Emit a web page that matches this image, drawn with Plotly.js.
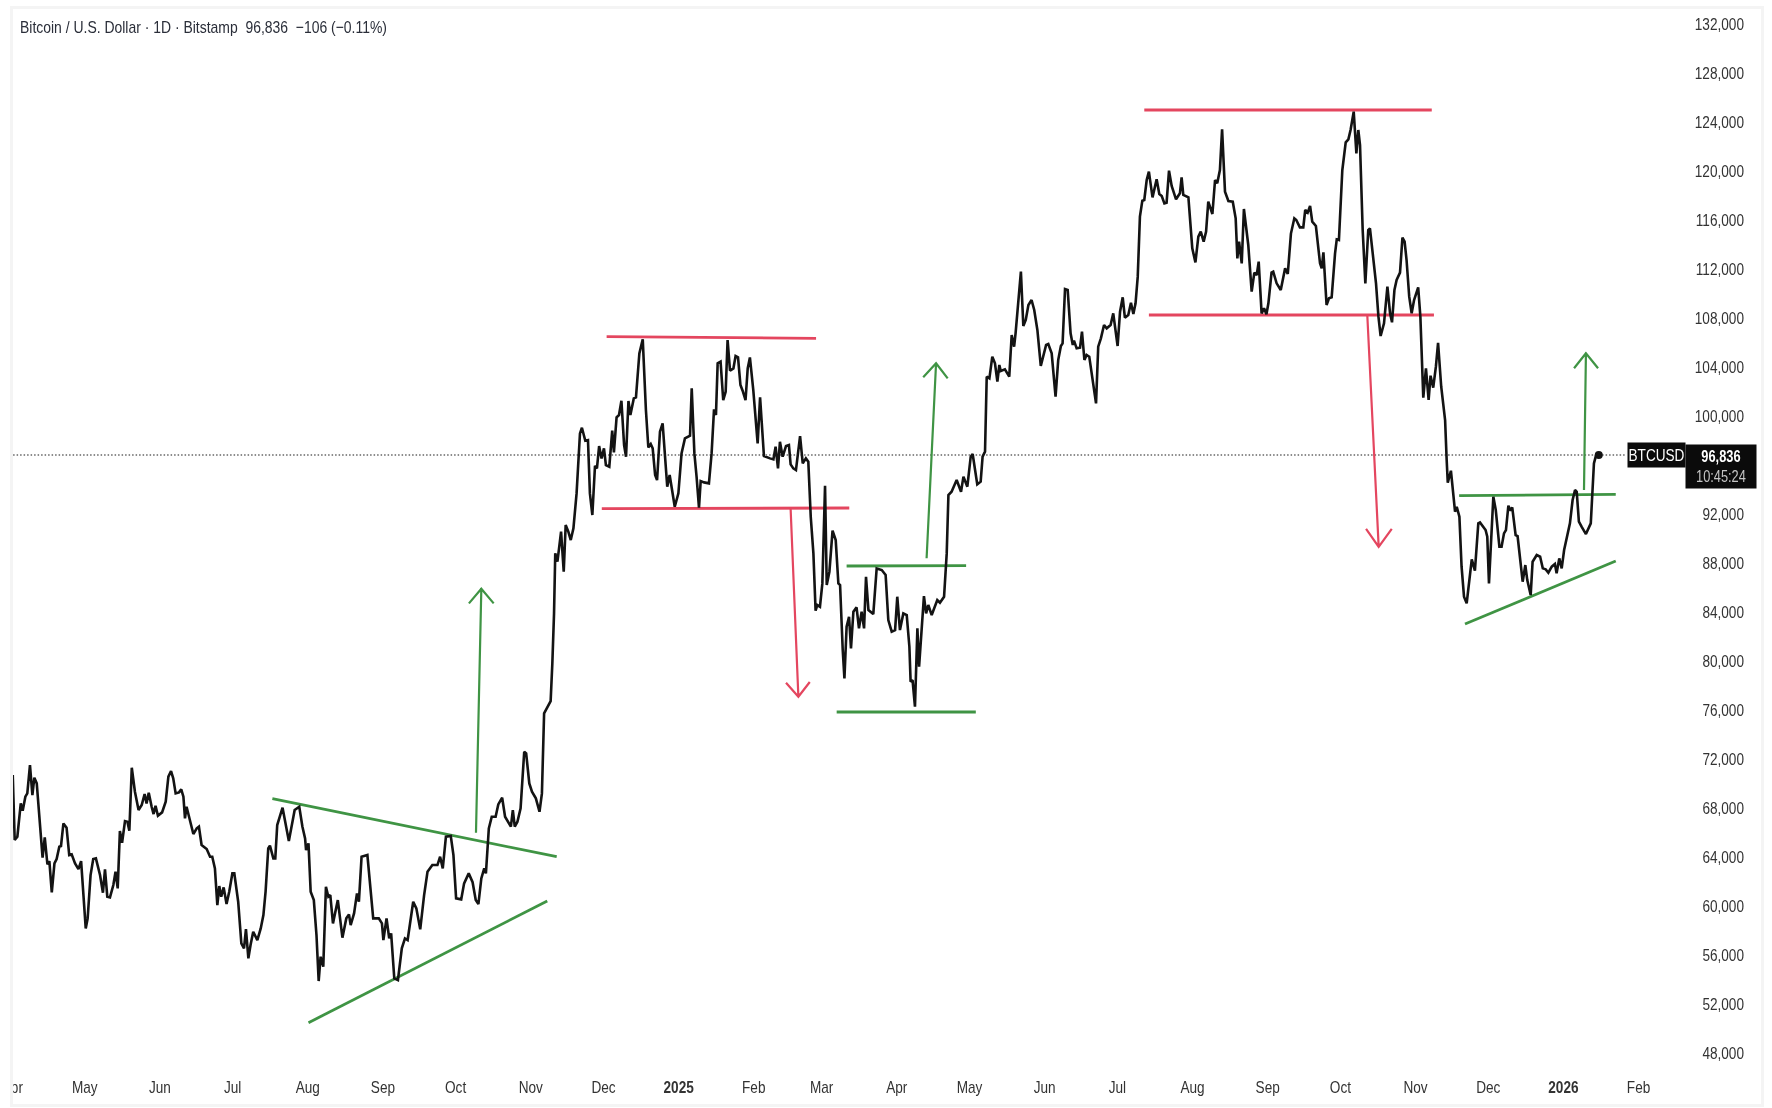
<!DOCTYPE html>
<html>
<head>
<meta charset="utf-8">
<script src="https://cdn.plot.ly/plotly-3.0.1.min.js"></script>
<style>
html,body{margin:0;padding:0;background:#fff;width:1772px;height:1108px;overflow:hidden}
#frame{position:absolute;left:10px;top:6px;width:1748px;height:1095px;border:3px solid #f4f4f4;box-sizing:content-box;pointer-events:none}
#chart{position:absolute;left:0;top:0;width:1772px;height:1108px;filter:blur(0.4px)}
</style>
</head>
<body>
<div id="chart"></div>
<div id="frame"></div>
<script>
// days counted from the first of May 2024
const baseDate = Date.UTC(2024, 4, 1);
const days = [
-29.7,-28.9,-27.8,-26.4,-25.6,-24.5,-23.7,-22.6,-21.6,-20.8,-19.8,-18.5,-17.4,-16.5,-15.4,-14.6,-13.6,-12.5,-11.6,-10.5,-9.8,-8.8,-7.5,-6.4,-5.4,-4.0,-2.6,-1.5,-0.6,0.4,1.2,2.4,3.5,4.6,6.3,7.5,8.35,9.3,10.4,11.8,12.7,13.6,14.5,15.4,16.6,17.6,18.4,19.4,20.7,22.2,23.5,24.7,25.5,26.4,27.6,28.4,29.2,30.2,31.9,33.4,34.5,35.6,36.5,37.5,38.9,39.8,40.7,41.35,42.0,43.4,44.8,46.2,47.1,48.2,50.3,51.7,52.6,53.7,54.7,55.5,56.3,57.3,58.5,59.6,60.9,61.7,63.3,64.6,65.7,66.5,67.5,68.4,69.5,71.2,72.6,73.7,74.6,75.7,76.4,77.8,78.6,79.4,
81.6,84.2,86.6,88.5,89.8,90.9,91.3,92.3,93.2,94.5,95.6,96.5,97.3,98.4,99.5,100.5,101.3,102.4,104.4,106.3,107.9,109,109.7,111.1,112.3,113.1,114.2,116.6,117.7,119,121.3,122.6,123.2,124.5,125.6,126.4,127.7,129.2,130.8,132.1,133.2,135.5,136.8,138.4,140,141.4,143.4,145.5,146.6,147.7,149,151,152.1,153.2,155.3,156.5,158.4,160,161.3,162.4,163.6,164.8,165.5,166.7,167.9,169.5,170.6,172.2,173.4,175.8,176.6,177.4,178.5,179.8,181.3,182.1,183.4,184.5,186.1,187.6,188.6,189.2,
189.5,190.6,191.7,192.2,192.9,193.6,194.1,195,196.5,197.6,198.4,199.5,200.5,201.6,202.9,203.6,204.3,205.1,206.5,207.6,208.4,209.4,210.5,211.3,212.2,213.2,214.2,215,216.4,217.6,218.3,219.4,220.4,221.4,222.5,223.3,224.3,225.1,226.5,227.4,228.8,230.2,231.5,232.5,233.5,234.3,235.3,236.1,237.3,238.4,239.7,240.3,241.3,242.3,243.4,
244.9,246.2,247.6,249.7,250.4,251.5,252.4,253.4,254.1,255.5,257.5,258.6,259.6,260.4,261.1,262.3,263.4,264.4,265.2,266.2,267.6,268.5,269.5,270.5,271.4,272.6,273.5,274.4,275.8,277.6,278.6,280.2,282.7,284.1,285,286,286.8,287.9,289.3,290.5,291.2,292.3,293.4,295.1,296.2,297.5,298.5,299.5,300.6,301.5,302.2,303.3,304.3,305.4,306.1,307.2,308.5,309.8,310.9,311.6,312.7,313.4,314.3,315.3,316.1,317.1,318.4,319.4,320.5,321.5,322.3,323.3,325.3,326.7,328.8,330.4,331.5,332.9,334.3,335.2,336.3,337.7,339.1,340.2,340.7,341.5,342.5,343.5,344.2,346.2,347.1,348,349.4,351.7,352.8,354.5,355.6,356.3,357.6,359.7,361.5,
362.5,364.1,365.5,366.3,368.2,369.6,370.4,371.4,372.1,373.2,374.4,375.5,376.5,377.3,377.9,379.6,381.4,382.4,383.4,384,
386.2,387.2,388.2,389.3,390.6,391.7,393,394.4,395.5,396.6,397.5,398.9,400.5,401.6,402.7,403.4,404.4,405.5,406.7,407.6,408.1,409.2,410.6,411.4,412.4,413.3,414.4,417.2,418.1,419.2,420.5,421.6,423.2,424.3,426.1,427.1,428.2,429.1,430.5,431.6,432.6,433.5,434.4,435.3,436.3,437.1,438.1,439,440.5,442.2,443.3,444.3,445.4,446.3,447.3,448.4,450.2,451.8,452.5,453.2,455.3,456.9,458.2,459.4,460.4,461.6,462.6,463.5,465.2,466.3,467.2,468.3,469.2,470.4,471.8,473.6,474.8,475.5,476.2,477.3,478.2,480,481.4,482.5,483.5,484.3,485.5,486.5,487.5,488.3,489.6,490.3,491.7,493.4,495.2,496.3,497.6,499,499.8,501.3,502.7,503.5,504.5,505.5,506.4,507.9,509.6,510.3,511,512.3,513.3,514.4,515.8,516.5,517.4,518.8,520.2,521.3,522.2,523.5,524.6,525.4,526.1,527.2,528.3,529.5,530.2,531.6,532.7,533.7,534.6,536,537.4,538.5,539.3,540.3,541.2,542.6,543.6,544.5,545.3,546.4,547.4,548.4,550.1,551,551.7,552.2,553.3,554.4,555.2,556.3,557.4,558.3,559.6,561.2,561.85,562.3,563.6,565.3,566,567.1,568,569,570.1,571.2,572.2,573.5,574.9,575.6,577.9,578.6,579.3,581.1,582.1,583.6,584.5,585.5,586.3,587.3,588.25,588.9,590.3,591.1,592.1,593.2,594.3,595.1,596.5,597.3,599,600.4,601.5,602.7,603.8,605.2,606.5,607.2,608.3,609.3,610.3,611.4,612.7,613.8,614.8,615.5,616.4,617.5,619.3,621.3,621.9,622.6,623.5,624.6
];
const prices = [
70708,65402,65674,68395,67797,68939,69211,71524,69075,70490,70028,66899,63960,65620,63416,63688,61130,63497,63851,64858,64912,66762,66409,64178,64232,63497,63035,63688,60640,58191,59008,62545,63851,63905,62545,61103,63008,60777,60722,61729,62817,61457,66137,65184,66953,66899,66164,71307,69348,67851,68259,69157,68395,69266,68123,67524,68205,67388,67661,68531,70572,71034,70436,69211,69293,69538,68939,67171,68123,66899,65892,66355,66491,64994,64667,64042,64042,63089,60096,61647,60776,61538,60178,61185,62681,62681,60368,56967,56559,58137,55742,56831,57919,57239,58191,59280,61185,64722,64940,63905,63905,66626,
68042,65321,67851,68123,66491,65538,64586,65130,61185,60504,57648,53893,55879,55063,61593,60777,60913,58600,60504,57430,59008,59335,58464,59416,61049,60369,64042,64178,61593,59008,59008,58600,57240,59008,57376,57784,54110,53974,56559,57376,57240,60369,59825,58110,60913,62817,63362,63362,64042,63090,65675,65729,64178,60641,60559,61865,62682,61961,60504,60178,62273,63090,62682,66355,67307,67307,68314,68858,67307,66491,67851,66491,66899,67987,72613,72477,70028,69348,68804,67715,69212,73429,
75742,76150,76640,76748,79823,83905,88803,88123,90572,87307,91116,90572,89891,90844,93701,95878,98599,99061,98000,98054,93701,91932,95959,95741,97565,96558,97374,96014,95878,98816,97048,99905,100095,101265,97646,96694,101238,100095,101456,101537,105129,106272,100503,97456,97728,97374,95197,94789,98734,99415,95606,94245,95197,93837,92612,
93701,96966,98190,98408,102272,96966,95061,92531,94708,94599,94517,96966,100558,100095,104313,104449,101320,102000,106217,103714,103905,104911,104803,102544,102082,101320,103905,104803,102136,97782,101537,96748,96558,96476,97510,95741,97918,96694,97565,97646,96068,95741,95605,98381,96150,96558,96286,91796,88803,84123,84586,84450,86354,94327,86218,87306,90653,89891,86354,86218,80912,78600,82817,83633,81048,84041,84395,82680,84041,82680,86898,84177,83851,87578,87442,87034,83361,82409,82545,85265,82545,83905,83769,81184,78327,78463,76286,82680,79552,85320,83905,84586,83769,84994,84776,85265,88803,93565,93837,94789,93837,
95066,94249,96698,96916,94440,94658,96698,97107,103229,103093,104861,104317,102820,104181,103691,103827,103229,106630,105678,106766,
111800,107365,107854,109079,109487,108670,107038,104099,104861,105814,105895,105133,101596,104590,105732,105950,110385,110303,106766,105814,106167,105541,105596,106902,104590,104997,104861,101052,105677,106357,107446,107174,107446,108398,105732,108534,109704,108045,108262,109270,108344,109215,111392,116289,117595,117650,119282,119963,117867,119337,118140,117976,117378,117432,120044,118793,117704,118194,119500,118058,117867,113704,112561,114657,115065,114249,115065,117514,116507,119282,119010,120098,123418,118330,117568,117514,116153,112888,114249,112480,116915,113977,110167,111718,111528,112616,108398,108806,108317,109215,111718,111800,110847,110303,112072,111609,114909,116153,116017,115418,115418,116833,116616,117160,115881,115527,112480,112072,113378,109079,109623,109704,113296,114439,114385,120098,122357,122602,123364,124860,121459,123364,122140,115201,110847,115201,115337,112752,110847,108126,106548,107582,110575,108398,107663,110303,111120,111718,114575,114249,112752,109759,108398,109487,110521,108126,104590,101514,103909,101324,103310,102330,104046,105997,102408,99687,96422,94572,95551,92204,92612,91796,87715,85266,84722,86626,88313,87388,91252,91333,90708,90164,86354,93429,92340,89347,89347,90436,90708,92694,92286,92558,90300,90218,88259,86490,87850,86626,85402,88123,88667,88531,87579,87497,87225,87715,87932,87170,88395,87579,89075,90164,91252,93157,93973,93837,91388,90980,90382,91252,93701,96150,96830,96836
];
const lastPrice = 96836;

// hand-drawn trend lines and levels
const greenLevelDays = [[77.4,194.7],[92.3,190.8],[314.3,363.6],[310.2,367.6],[567,631.6],[569.4,631.6]];
const greenLevelPrices = [[68778,64043],[50493,60427],[87773,87797],[75855,75855],[93512,93626],[83038,88181]];
const redLevelDays = [[215.3,301.7],[213.3,315.4],[437.1,555.7],[439,556.6]];
const redLevelPrices = [[106491,106360],[92450,92508],[124996,124996],[108262,108262]];
const greenArrowDays = [[161.4,163.6,158.5,163.6,168.7],[347.3,351.2,345.9,351.2,356],[618.5,619.3,614.4,619.3,624.3]];
const greenArrowPrices = [[66002,85920,84720,85920,84720],[88402,104320,103177,104320,103095],[93977,105136,103911,105136,103911]];
const redArrowDays = [[291.2,294.4,289.3,294.4,299.1],[529.1,533.8,528.6,533.8,539.2]];
const redArrowPrices = [[92450,77104,78247,77104,78304],[108262,89332,90810,89332,90810]];

const tickDates = ["2024-04-03","2024-05-01","2024-06-01","2024-07-01","2024-08-01","2024-09-01","2024-10-01","2024-11-01","2024-12-01","2025-01-01","2025-02-01","2025-03-01","2025-04-01","2025-05-01","2025-06-01","2025-07-01","2025-08-01","2025-09-01","2025-10-01","2025-11-01","2025-12-01","2026-01-01","2026-02-01"];
const tickLabels = ["pr","May","Jun","Jul","Aug","Sep","Oct","Nov","Dec","<b>2025</b>","Feb","Mar","Apr","May","Jun","Jul","Aug","Sep","Oct","Nov","Dec","<b>2026</b>","Feb"];
const priceTicks = [48000,52000,56000,60000,64000,68000,72000,76000,80000,84000,88000,92000,96000,100000,104000,108000,112000,116000,120000,124000,128000,132000];
const priceTickLabels = ["48,000","52,000","56,000","60,000","64,000","68,000","72,000","76,000","80,000","84,000","88,000","92,000","","100,000","104,000","108,000","112,000","116,000","120,000","124,000","128,000","132,000"];

const titleText = "Bitcoin / U.S. Dollar · 1D · Bitstamp  96,836  −106 (−0.11%)";

const toDate = d => new Date(baseDate + d * 86400000).toISOString();
const FONT = '"Liberation Sans",Arial,sans-serif';
const GREEN = '#3f9444', RED = '#e4465f', INK = '#131313';

const traces = [];
function addLines(ds, ps, color, width) {
  ds.forEach((d, i) => traces.push({
    type: 'scatter', mode: 'lines', x: d.map(toDate), y: ps[i],
    line: {color, width}, hoverinfo: 'skip', showlegend: false
  }));
}
// last-price dotted line
traces.push({type:'scatter',mode:'lines',x:[toDate(-31),toDate(635.4)],y:[lastPrice,lastPrice],
  line:{color:'#1a1a1a',width:1.2,dash:'1.5px 2px'},hoverinfo:'skip',showlegend:false});
addLines(greenLevelDays, greenLevelPrices, GREEN, 2.8);
addLines(redLevelDays, redLevelPrices, RED, 2.8);
addLines(greenArrowDays, greenArrowPrices, GREEN, 2.2);
addLines(redArrowDays, redArrowPrices, RED, 2.2);
traces.push({type:'scatter',mode:'lines',x:days.map(toDate),y:prices,
  line:{color:INK,width:2.6,shape:'linear'},hoverinfo:'skip',showlegend:false,name:'BTCUSD'});
traces.push({type:'scatter',mode:'markers',x:[toDate(days[days.length-1])],y:[lastPrice],
  marker:{color:INK,size:8},hoverinfo:'skip',showlegend:false});

const W = 1772, H = 1108, L = 11, R = 1747, T = 7, B = 1072;
const pxToDay = px => (px - 84.75) / 2.424;
const pxToPrice = py => 100140 - (py - 414.5) * 81.63;
const paperX = px => (px - L) / (R - L);

const layout = {
  width: W, height: H,
  margin: {l: L, r: W - R, t: T, b: H - B, pad: 0},
  paper_bgcolor: '#fff', plot_bgcolor: '#fff',
  showlegend: false, hovermode: false,
  title: {text: titleText, x: 20 / W, xanchor: 'left', y: 1 - 27 / H, yanchor: 'middle',
    font: {family: FONT, size: 17, color: '#2a2e39'}},
  font: {family: FONT, color: '#333'},
  xaxis: {type: 'date', range: [toDate(pxToDay(L)), toDate(pxToDay(R))], tickmode: 'array',
    tickvals: tickDates, ticktext: tickLabels, showgrid: false, zeroline: false, showline: false,
    ticks: '', tickangle: 0, ticklabelstandoff: 3, tickfont: {family: FONT, size: 17, color: '#333'}, automargin: false},
  yaxis: {range: [pxToPrice(B), pxToPrice(T)], tickmode: 'array', tickvals: priceTicks,
    ticktext: priceTickLabels, side: 'right', ticklabelposition: 'inside', showgrid: false,
    zeroline: false, showline: false, ticks: '', tickfont: {family: FONT, size: 17, color: '#333'},
    automargin: false},
  annotations: [
    {xref:'paper',yref:'y',x:paperX(1627),y:lastPrice,xanchor:'left',yanchor:'middle',showarrow:false,
      text:'BTCUSD',bgcolor:'#0b0b0b',width:57,height:24,borderpad:0,align:'center',
      font:{family:FONT,size:17,color:'#fff'}},
    {xref:'paper',yref:'y',x:paperX(1685),y:lastPrice,yshift:11,xanchor:'left',yanchor:'top',showarrow:false,
      text:'<b>96,836</b><br><span style="color:#c4c4c4">10:45:24</span>',bgcolor:'#0b0b0b',width:70,height:43,borderpad:0,align:'center',
      font:{family:FONT,size:16,color:'#fff'}}
  ]
};

// the reference's axis lettering is narrow: squeeze real text horizontally
function squeeze(el, ratio) {
  const len = el.getComputedTextLength();
  if (!len) return;
  el.setAttribute('textLength', (len * ratio).toFixed(1));
  el.setAttribute('lengthAdjust', 'spacingAndGlyphs');
}
Plotly.newPlot('chart', traces, layout, {displayModeBar: false, staticPlot: true}).then(gd => {
  gd.querySelectorAll('.xtick text, .ytick text').forEach(t => squeeze(t, 0.8));
  gd.querySelectorAll('.g-gtitle text, text.gtitle').forEach(t => squeeze(t, 0.82));
  gd.querySelectorAll('.annotation-text').forEach(t => squeeze(t, 0.8));
});
</script>
</body>
</html>
